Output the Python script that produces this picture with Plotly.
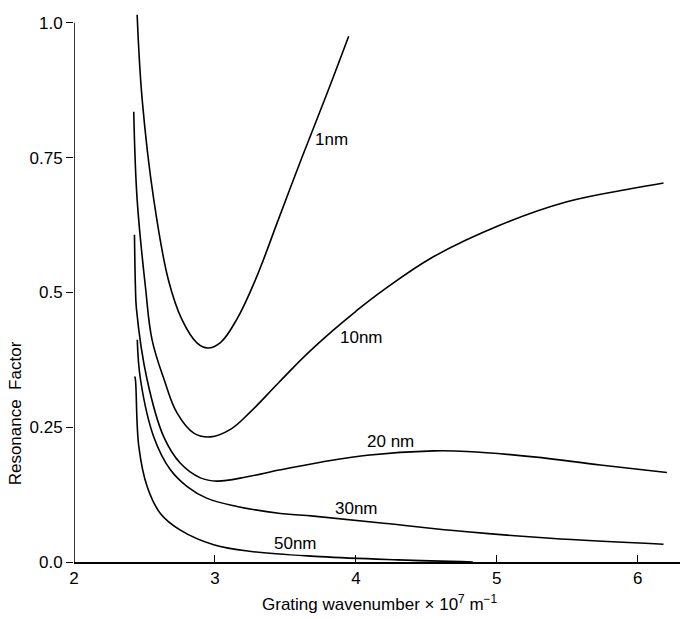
import plotly.graph_objects as go

# ---- data (x: grating wavenumber x1e7 m^-1, y: resonance factor)
x_1nm = [2.448, 2.484, 2.566, 2.67, 2.767, 2.874, 2.949, 3.039, 3.157, 3.29, 3.45, 3.62, 3.80, 3.949]
y_1nm = [1.015, 0.857, 0.672, 0.523, 0.449, 0.406, 0.397, 0.407, 0.451, 0.525, 0.635, 0.752, 0.872, 0.975]

x_10nm = [2.424, 2.448, 2.507, 2.554, 2.64, 2.732, 2.85, 2.968, 3.11, 3.25, 3.45, 3.65, 3.84, 4.0, 4.2, 4.55, 5.025, 5.498, 5.97, 6.183]
y_10nm = [0.835, 0.672, 0.510, 0.412, 0.338, 0.276, 0.239, 0.232, 0.246, 0.278, 0.332, 0.385, 0.430, 0.465, 0.505, 0.566, 0.625, 0.668, 0.693, 0.703]

x_20nm = [2.429, 2.436, 2.443, 2.519, 2.637, 2.755, 2.897, 3.016, 3.228, 3.465, 3.75, 4.08, 4.552, 4.789, 5.26, 5.734, 6.207]
y_20nm = [0.607, 0.510, 0.470, 0.338, 0.232, 0.183, 0.156, 0.150, 0.158, 0.171, 0.185, 0.198, 0.206, 0.205, 0.195, 0.180, 0.166]

x_30nm = [2.449, 2.472, 2.566, 2.684, 2.803, 2.945, 3.157, 3.465, 3.7, 4.197, 4.789, 5.379, 6.183]
y_30nm = [0.412, 0.338, 0.232, 0.171, 0.140, 0.118, 0.103, 0.090, 0.085, 0.072, 0.056, 0.044, 0.033]

x_50nm = [2.431, 2.436, 2.46, 2.519, 2.613, 2.755, 2.991, 3.275, 3.748, 4.3, 4.83]
y_50nm = [0.344, 0.338, 0.214, 0.140, 0.090, 0.059, 0.032, 0.019, 0.010, 0.004, 0.0]

series_names = ["1nm", "10nm", "20 nm", "30nm", "50nm"]
label_x = [3.826, 4.039, 4.245, 4.004, 3.571]
label_y = [0.783, 0.416, 0.223, 0.100, 0.035]

x_ticks = [2, 3, 4, 5, 6]
y_ticks = [0, 0.25, 0.5, 0.75, 1.0]
y_ticktext = ["0.0", "0.25", "0.5", "0.75", "1.0"]

FONT = "Liberation Sans, Arial, sans-serif"

fig = go.Figure()
for xs, ys in [(x_1nm, y_1nm), (x_10nm, y_10nm), (x_20nm, y_20nm), (x_30nm, y_30nm), (x_50nm, y_50nm)]:
    fig.add_trace(go.Scatter(x=xs, y=ys, mode="lines",
                             line=dict(color="black", width=1.6, shape="spline", smoothing=1.1),
                             showlegend=False, hoverinfo="skip"))

for name, lx, ly in zip(series_names, label_x, label_y):
    fig.add_annotation(x=lx, y=ly, text=name, showarrow=False,
                       font=dict(family=FONT, size=17, color="black"),
                       xanchor="center", yanchor="middle")

# y-axis line from 0 to 1.0
fig.add_shape(type="line", x0=2, x1=2, y0=0, y1=1.0, xref="x", yref="y",
              line=dict(color="black", width=1.6))

fig.add_annotation(text="Grating wavenumber \u00d7 10<sup>7</sup> m<sup>\u22121</sup>",
                   xref="paper", yref="paper", x=0.505, y=-0.074,
                   showarrow=False, xanchor="center", yanchor="middle",
                   font=dict(family=FONT, size=17, color="black"))
fig.add_annotation(text="Resonance  Factor", xref="paper", yref="paper",
                   x=-0.077, y=0.27, textangle=-90, showarrow=False,
                   xanchor="right", yanchor="middle",
                   font=dict(family=FONT, size=17, color="black"))

fig.update_layout(
    width=682, height=619,
    margin=dict(l=74, r=2, t=12, b=57),
    paper_bgcolor="white", plot_bgcolor="white",
    xaxis=dict(range=[2, 6.3], tickvals=x_ticks, ticks="inside", ticklen=7,
               tickcolor="black", tickwidth=1.2, showline=True, linecolor="black",
               linewidth=2, showgrid=False, zeroline=False,
               tickfont=dict(family=FONT, size=17, color="black")),
    yaxis=dict(range=[0, 1.02], tickvals=y_ticks, ticktext=y_ticktext, ticks="outside",
               ticklen=7, tickcolor="black", tickwidth=1.2, showline=False,
               showgrid=False, zeroline=False,
               tickfont=dict(family=FONT, size=17, color="black")),
)

fig.write_html("out.html")
